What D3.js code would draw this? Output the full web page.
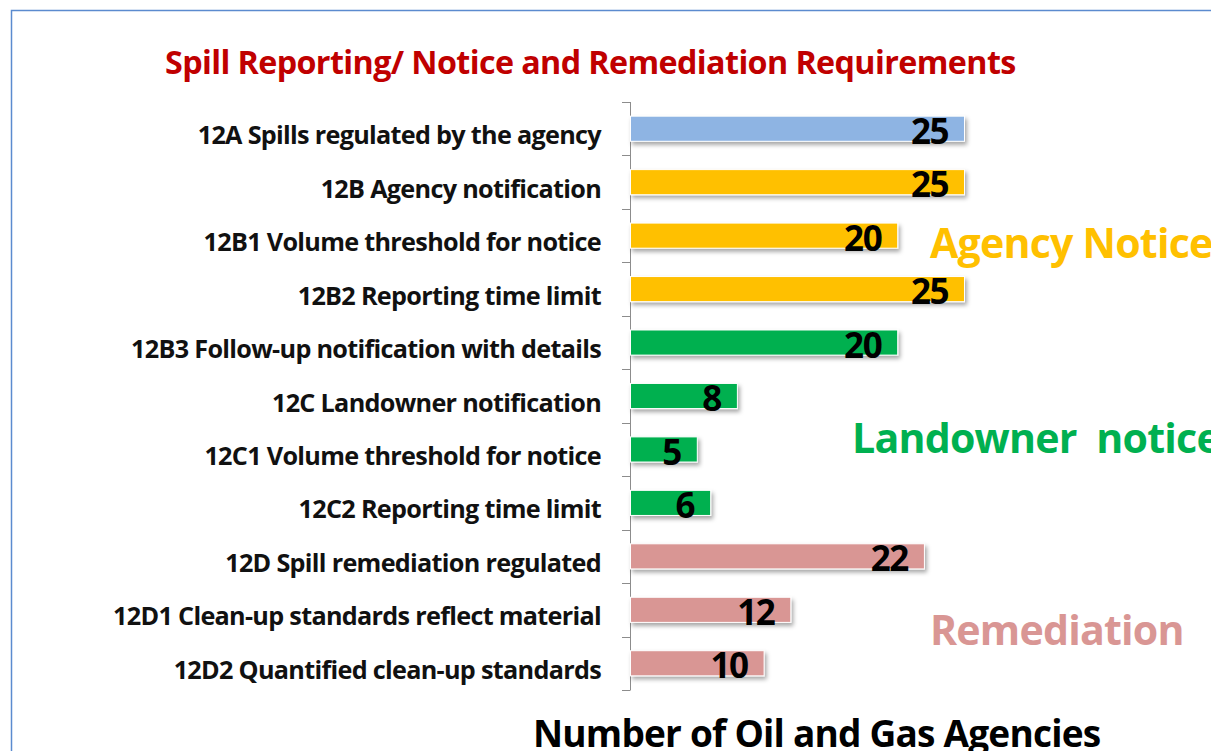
<!DOCTYPE html>
<html>
<head>
<meta charset="utf-8">
<script src="https://cdn.jsdelivr.net/npm/d3@7"></script>
<style>
  body { margin: 0; background: #fff; }
  svg { display: block; font-family: "Open Sans", "Noto Sans", sans-serif; }
</style>
</head>
<body>
<svg id="chart" width="1211" height="751"></svg>
<script>
'use strict'

const categories = [
    '12A Spills regulated by the agency',
    '12B Agency notification',
    '12B1 Volume threshold for notice',
    '12B2 Reporting time limit',
    '12B3 Follow-up notification with details',
    '12C Landowner notification',
    '12C1 Volume threshold for notice',
    '12C2 Reporting time limit',
    '12D Spill remediation regulated',
    '12D1 Clean-up standards reflect material',
    '12D2 Quantified clean-up standards',
]
const agencies = [25, 25, 20, 25, 20, 8, 5, 6, 22, 12, 10]
const groups = ['all', 'agency', 'agency', 'agency', 'land', 'land', 'land', 'land', 'remed', 'remed', 'remed']

const groupColor = {
    all: '#8EB4E3',
    agency: '#FFC000',
    land: '#00B050',
    remed: '#D99694',
}

// group captions, anchored on a category row
const captions = [
    {text: 'Agency Notice', group: 'agency', row: 2, dx: 930, dy: 35},
    {text: 'Landowner\u00a0\u00a0notice', group: 'land', row: 6, dx: 852, dy: 16},
    {text: 'Remediation', group: 'remed', row: 9, dx: 930, dy: 48},
]

const svg = d3.select('#chart')

// shadow under the bars
const defs = svg.append('defs')
defs.append('filter')
    .attr('id', 'shadow')
    .attr('x', '-5%').attr('y', '-30%')
    .attr('width', '115%').attr('height', '190%')
    .append('feDropShadow')
    .attr('dx', 2).attr('dy', 3)
    .attr('stdDeviation', 2)
    .attr('flood-color', '#000')
    .attr('flood-opacity', 0.35)

// frame of the slide
svg.append('path')
    .attr('d', 'M11.5,751 V10.5 H1211')
    .attr('fill', 'none')
    .attr('stroke', '#5B8BCF')
    .attr('stroke-width', 1.5)

const x = d3.scaleLinear().domain([0, 25]).range([630, 964])
const y = d3.scaleBand().domain(categories).range([102, 690]).paddingInner(0.53).paddingOuter(0.265)

// fit a text to a width by tuning its font size
function fitWidth(sel, width) {
    const w = sel.node().getComputedTextLength()
    const fs = parseFloat(sel.attr('font-size'))
    sel.attr('font-size', fs * width / w)
    return sel
}

svg.append('text')
    .attr('x', 165)
    .attr('y', 74)
    .attr('font-size', 30)
    .attr('font-weight', 'bold')
    .attr('letter-spacing', -0.6)
    .attr('fill', '#C00000')
    .text('Spill Reporting/ Notice and Remediation Requirements')
    .call(fitWidth, 849)

// axis with ticks between categories
const axis = svg.append('g').attr('class', 'axis')
axis.append('line')
    .attr('x1', 630.5).attr('x2', 630.5)
    .attr('y1', 102).attr('y2', 690)
    .attr('stroke', '#8C8C8C')
const step = y.step()
axis.selectAll('.tick')
    .data(d3.range(categories.length + 1))
    .join('line')
    .attr('class', 'tick')
    .attr('x1', 622).attr('x2', 630.5)
    .attr('y1', i => Math.round(102 + i * step) + 0.5)
    .attr('y2', i => Math.round(102 + i * step) + 0.5)
    .attr('stroke', '#8C8C8C')

// Calibri is narrower than Open Sans, so tighten the letters a bit
const catLabels = svg.append('g')
    .selectAll('text')
    .data(categories)
    .join('text')
    .attr('x', 601)
    .attr('y', d => y(d) + y.bandwidth() / 2 + 15.5)
    .attr('text-anchor', 'end')
    .attr('font-size', 22)
    .attr('font-weight', 'bold')
    .attr('letter-spacing', -0.7)
    .attr('fill', '#111')
    .text(d => d)

// scale all labels so the longest spans the same width as the picture
const longest = d3.max(catLabels.nodes(), n => n.getComputedTextLength())
catLabels.attr('font-size', 22 * 484 / longest)

svg.append('g')
    .selectAll('rect')
    .data(agencies)
    .join('rect')
    .attr('x', x(0) + 0.5)
    .attr('y', (d, i) => y(categories[i]))
    .attr('width', d => x(d) - x(0))
    .attr('height', y.bandwidth())
    .attr('fill', (d, i) => groupColor[groups[i]])
    .attr('stroke', '#fff')
    .attr('stroke-width', 1)
    .attr('filter', 'url(#shadow)')

const valLabels = svg.append('g')
    .selectAll('text')
    .data(agencies)
    .join('text')
    .attr('x', d => x(d) - 16)
    .attr('y', (d, i) => y(categories[i]) + y.bandwidth() + 2.5)
    .attr('text-anchor', 'end')
    .attr('font-size', 34)
    .attr('font-weight', 'bold')
    .attr('letter-spacing', -1.5)
    .attr('fill', '#000')
    .text(d => d)

const w25 = valLabels.nodes()[0].getComputedTextLength()
valLabels.attr('font-size', 34 * 37 / w25)

// group captions
const capText = svg.append('g')
    .selectAll('text')
    .data(captions)
    .join('text')
    .attr('x', d => d.dx)
    .attr('y', d => y(categories[d.row]) + d.dy)
    .attr('font-size', 38)
    .attr('font-weight', 'bold')
    .attr('letter-spacing', -0.8)
    .attr('fill', d => groupColor[d.group])
    .text(d => d.text)

const wRem = capText.nodes()[2].getComputedTextLength()
capText.attr('font-size', 38 * 253 / wRem)

svg.append('text')
    .attr('x', 533)
    .attr('y', 747)
    .attr('font-size', 36)
    .attr('font-weight', 'bold')
    .attr('letter-spacing', -0.8)
    .attr('fill', '#000')
    .text('Number of Oil and Gas Agencies')
    .call(fitWidth, 567)
</script>
</body>
</html>
